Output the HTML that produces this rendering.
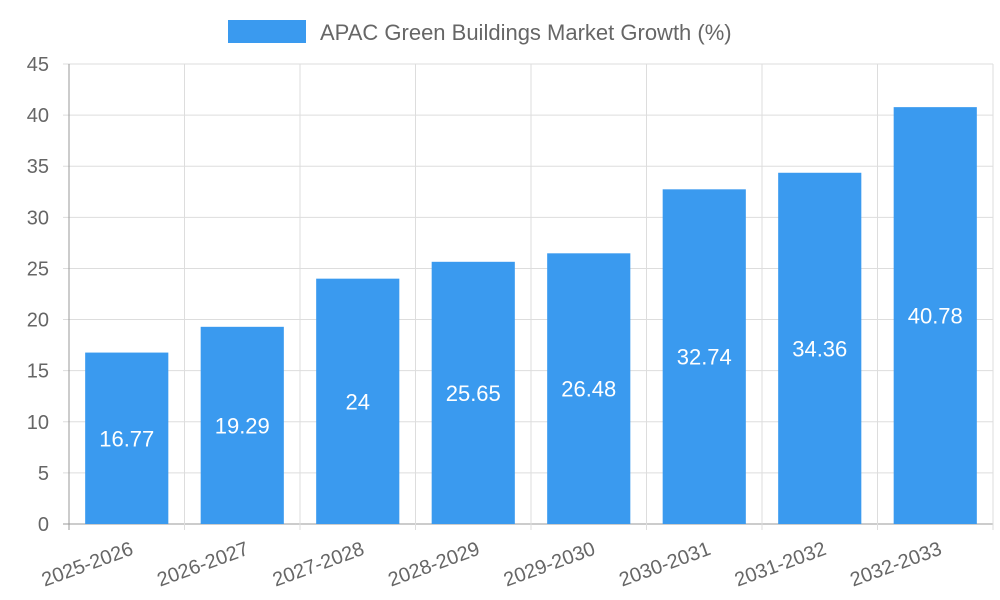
<!DOCTYPE html>
<html><head><meta charset="utf-8"><style>
html,body{margin:0;padding:0;background:#fff;}
svg{display:block;font-family:"Liberation Sans",sans-serif;}
</style></head><body>
<svg id="chart" width="1000" height="600">
<g id="grid"></g>
<g id="bars"></g>
<g id="axes"></g>
<g>
<rect x="228" y="20" width="78" height="23" fill="#3a9aef"/>
<text x="320" y="40" font-size="22" fill="#666">APAC Green Buildings Market Growth (%)</text>
</g>
</svg>
<script>
const categories=["2025-2026","2026-2027","2027-2028","2028-2029","2029-2030","2030-2031","2031-2032","2032-2033"];
const values=[16.77,19.29,24,25.65,26.48,32.74,34.36,40.78];
const valueLabels=["16.77","19.29","24","25.65","26.48","32.74","34.36","40.78"];
const yTicks=[0,5,10,15,20,25,30,35,40,45];
const NS="http://www.w3.org/2000/svg";
const L=69,R=993,T=64,B=524,yMax=45;
const y=v=>B-(v/yMax)*(B-T);
const bw=(R-L)/categories.length;
const x=i=>L+i*bw;
function mk(tag,attrs,parent,txt){const e=document.createElementNS(NS,tag);for(const k in attrs)e.setAttribute(k,attrs[k]);if(txt!==undefined)e.textContent=txt;parent.appendChild(e);return e;}
const grid=document.getElementById('grid'),bars=document.getElementById('bars'),axes=document.getElementById('axes');
yTicks.forEach(t=>{
 const l=mk('line',{x1:L-6,x2:R,y1:y(t),y2:y(t),stroke:t===0?'#999':'#ddd','stroke-width':1},grid);
 
 
 const tx=mk('text',{x:L-20,y:y(t)+7,'text-anchor':'end','font-size':20,fill:'#666'},axes,String(t));
 
 
});
for(let i=0;i<=categories.length;i++){
 const l=mk('line',{x1:x(i),x2:x(i),y1:T,y2:B+6,stroke:i===0?'#999':'#ddd','stroke-width':1},grid);
 
 
}
categories.forEach((c,i)=>{
 const cx=x(i)+bw/2,w=bw*0.72;
 const r=mk('rect',{x:cx-w/2,y:y(values[i]),width:w,height:B-y(values[i]),fill:'#3a9aef'},bars);
 
 
 const vt=mk('text',{x:cx,y:(y(values[i])+B)/2+8,'text-anchor':'middle','font-size':22,fill:'#fff'},bars,valueLabels[i]);
 
 
 const tx=mk('text',{x:x(i+1)-50,y:B+30,'text-anchor':'end','font-size':20,fill:'#666',transform:`rotate(-20 ${x(i+1)-50} ${B+30})`},axes,c);
 
 
});
</script>
</body></html>
